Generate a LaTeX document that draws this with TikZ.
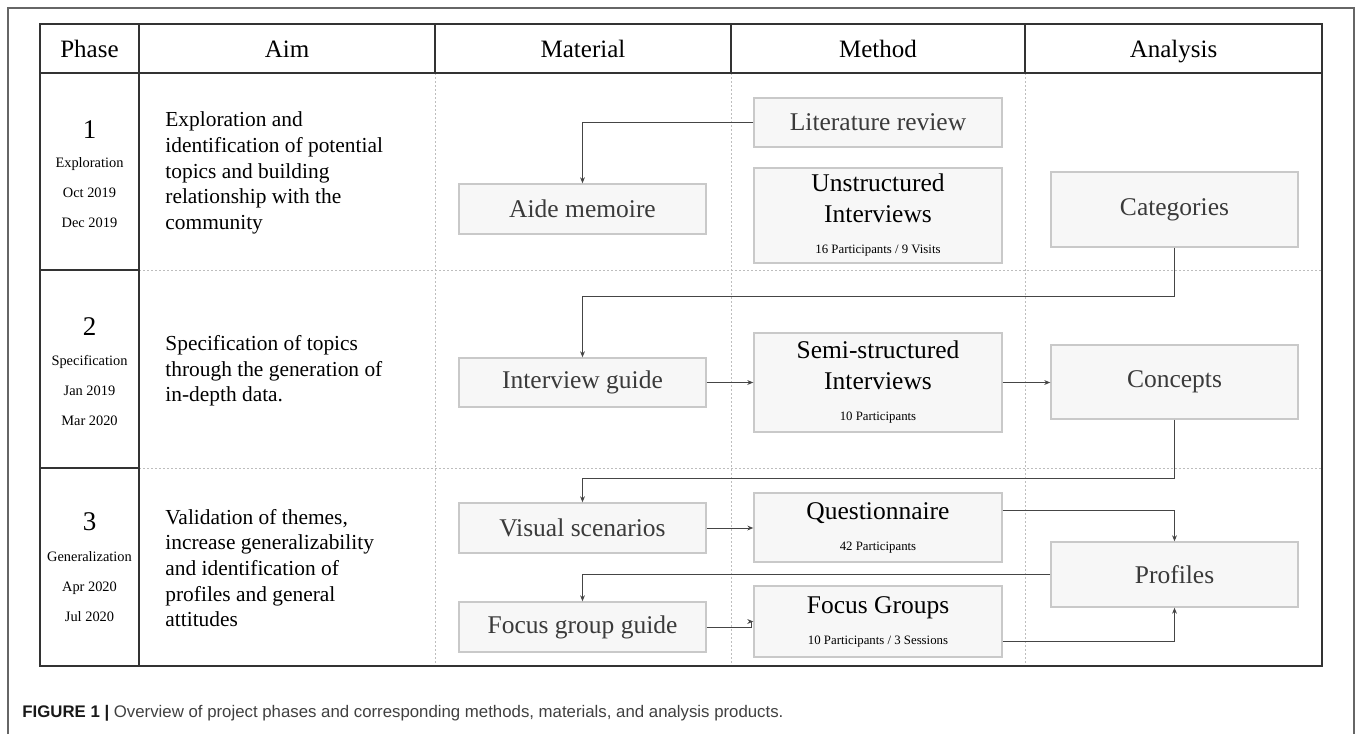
\documentclass[tikz,border=0pt]{standalone}
\usepackage{fontspec}
\setmainfont{Liberation Serif}
\newfontfamily\capfont{Liberation Sans}
\usetikzlibrary{positioning,calc,arrows.meta}

\definecolor{boxfill}{HTML}{F7F7F7}
\definecolor{boxline}{HTML}{C9C9C9}
\definecolor{softtext}{HTML}{3A3A3A}
\definecolor{flowgray}{HTML}{454545}
\definecolor{gridgray}{HTML}{BDBDBD}
\definecolor{framegray}{HTML}{666666}

\newcommand{\smallnote}[1]{{\fontsize{6.4}{8}\selectfont #1}}

\begin{document}
\begin{tikzpicture}[
    x=0.5pt, y=-0.5pt,
    header/.style={text height=9pt, text depth=2.6pt, font=\fontsize{12.5}{15}\selectfont},
    phasenum/.style={font=\fontsize{13.5}{15}\selectfont},
    phaseinfo/.style={align=center, font=\fontsize{7.2}{15}\selectfont},
    aimtext/.style={anchor=west, align=left, inner sep=0pt, font=\fontsize{10.7}{12.85}\selectfont},
    box/.style={draw=boxline, fill=boxfill, line width=0.7pt, inner sep=0pt, minimum width=123.5pt, align=center, text=softtext, font=\fontsize{12.75}{15.5}\selectfont},
    methodbox/.style={box, text=black},
    flow/.style={draw=flowgray, line width=0.5pt, -{Stealth[length=3pt,width=2.4pt]}},
    solidline/.style={draw=black!80, line width=0.6pt},
    gridline/.style={draw=gridgray, line width=0.5pt, dash pattern=on 1pt off 1pt}
]
\useasboundingbox (0,0) rectangle (1358,734);

% outer frame
\draw[draw=framegray, line width=0.9pt] (8,734) -- (8,8) -- (1354,8) -- (1354,734);

% dotted cell lines
\draw[gridline] (435,73) -- (435,666);
\draw[gridline] (731,73) -- (731,666);
\draw[gridline] (1025,73) -- (1025,666);
\draw[gridline] (139,270) -- (1322,270);
\draw[gridline] (139,468) -- (1322,468);

% table rules
\draw[solidline] (40,24) rectangle (1322,666);
\draw[solidline] (40,73) -- (1322,73);
\draw[solidline] (139,24) -- (139,666);
\draw[solidline] (435,24) -- (435,73);
\draw[solidline] (731,24) -- (731,73);
\draw[solidline] (1025,24) -- (1025,73);
\draw[solidline] (40,270) -- (139,270);
\draw[solidline] (40,468) -- (139,468);

% header row
\node[header] (hphase) at (89.5,51) {Phase};
\node[header] (haim) at (287,51) {Aim};
\node[header] (hmat) at (583,51) {Material};
\node[header] (hmeth) at (878,51) {Method};
\node[header] (hana) at (1173.5,51) {Analysis};

% phase column
\node[phasenum] (ph1) at (89.5,130) {1};
\node[phaseinfo] (ph1info) at (89.5,192.5) {Exploration\\Oct 2019\\Dec 2019};
\node[phasenum] (ph2) at (89.5,327) {2};
\node[phaseinfo] (ph2info) at (89.5,390) {Specification\\Jan 2019\\Mar 2020};
\node[phasenum] (ph3) at (89.5,522) {3};
\node[phaseinfo] (ph3info) at (89.5,587) {Generalization\\Apr 2020\\Jul 2020};

% aim column
\node[aimtext] (aim1) at (165,173) {Exploration and\\identification of potential\\topics and building\\relationship with the\\community};
\node[aimtext] (aim2) at (165,371) {Specification of topics\\through the generation of\\in-depth data.};
\node[aimtext] (aim3) at (165,568) {Validation of themes,\\increase generalizability\\and identification of\\profiles and general\\attitudes};

% material boxes
\node[box, minimum height=25pt] (aide) at (582.5,209) {Aide memoire};
\node[box, minimum height=24.5pt] (iguide) at (582.5,382.5) {Interview guide};
\node[box, minimum height=25pt] (visual) at (582.5,528) {Visual scenarios};
\node[box, minimum height=25pt] (fguide) at (582.5,627) {Focus group guide};

% method boxes
\node[box, minimum width=124pt, minimum height=24.5pt] (lit) at (878,122.5) {Literature review};
\node[methodbox, minimum width=124pt, minimum height=47.5pt] (unstr) at (878,215.5) {Unstructured\\Interviews\\\smallnote{16 Participants / 9 Visits}};
\node[methodbox, minimum width=124pt, minimum height=49.5pt] (semi) at (878,382.5) {Semi-structured\\Interviews\\\smallnote{10 Participants}};
\node[methodbox, minimum width=124pt, minimum height=34.5pt] (quest) at (878,527.5) {Questionnaire\\\smallnote{42 Participants}};
\node[methodbox, minimum width=124pt, minimum height=35.5pt] (fgroups) at (878,621.5) {Focus Groups\\\smallnote{10 Participants / 3 Sessions}};

% analysis boxes
\node[box, minimum height=37.5pt] (cat) at (1174.5,209.5) {Categories};
\node[box, minimum height=37pt] (conc) at (1174.5,382) {Concepts};
\node[box, minimum height=32.5pt] (prof) at (1174.5,574.5) {Profiles};

% connectors
\draw[flow] (lit.west) -| (aide.north);
\draw[flow] (cat.south) -- ++(0,49) -| (iguide.north);
\draw[flow] (iguide.east) -- (iguide.east -| semi.west);
\draw[flow] (semi.east) -- (semi.east -| conc.west);
\draw[flow] (conc.south) -- ++(0,59) -| (visual.north);
\draw[flow] (visual.east) -- (visual.east -| quest.west);
\draw[flow] ([yshift=8.75pt]quest.east) -| (prof.north);
\draw[flow] (prof.west) -| (fguide.north);
\draw[flow] (fguide.east) -- ++(45,0) |- (fgroups.west);
\draw[flow] ([yshift=-9.75pt]fgroups.east) -| (prof.south);

% caption
\node[anchor=west, inner sep=0pt, text=black!75, font=\capfont\fontsize{8.4}{10}\selectfont] (caption) at (22,713) {{\bfseries\color{black!90}FIGURE 1 |} Overview of project phases and corresponding methods, materials, and analysis products.};

\end{tikzpicture}
\end{document}
